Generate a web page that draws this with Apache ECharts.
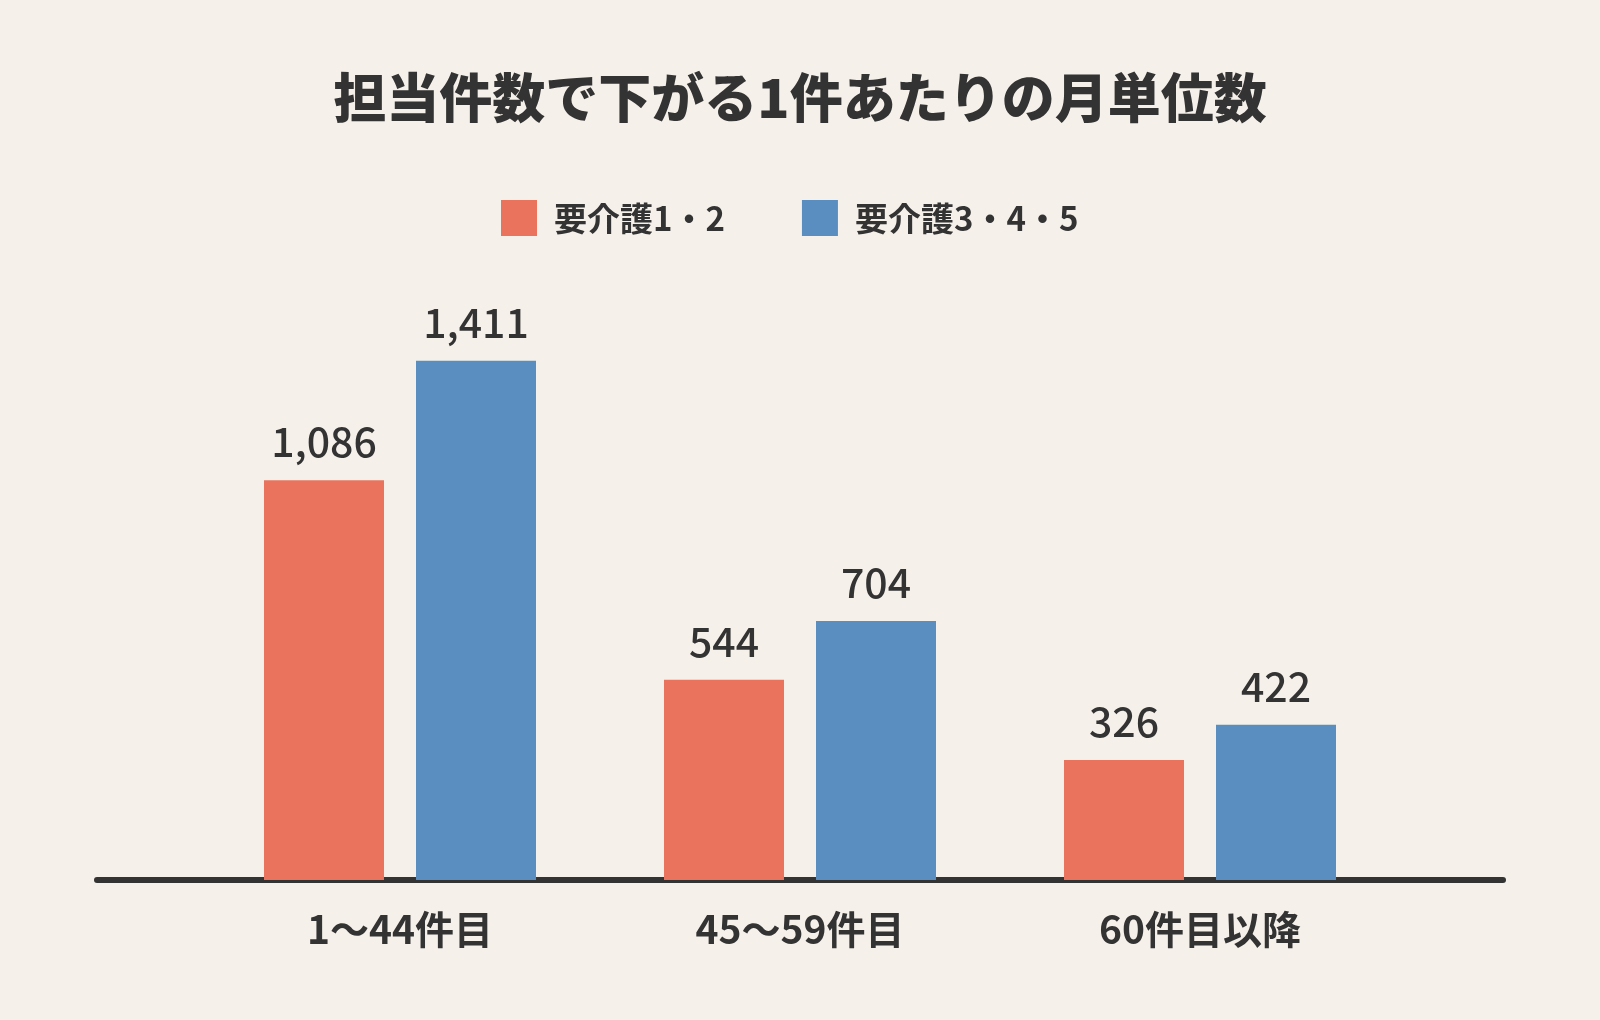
<!DOCTYPE html>
<html>
<head>
<meta charset="utf-8">
<title>担当件数で下がる1件あたりの月単位数</title>
<script src="https://cdn.jsdelivr.net/npm/echarts@6/dist/echarts.min.js"></script>
<style>
    html, body { margin: 0; padding: 0; background: #f5f0ea; }
    #chart { width: 1600px; height: 1020px; }
</style>
</head>
<body>
<div id="chart"></div>
<script>
// data
const categories = ['1〜44件目', '45〜59件目', '60件目以降'];
const seriesNames = ['要介護1・2', '要介護3・4・5'];
const care12 = [1086, 544, 326];
const care345 = [1411, 704, 422];

const font = '"Noto Sans CJK JP", "Noto Sans", sans-serif';
const textColor = '#333333';

const myChart = echarts.init(document.getElementById('chart'));

const barLabel = {
    show: true,
    position: 'top',
    distance: 18,
    color: textColor,
    fontFamily: font,
    fontSize: 41,
    fontWeight: 500,
    formatter: p => p.value.toLocaleString('en-US')
};

myChart.setOption({
    backgroundColor: '#f5f0ea',
    animation: false,
    title: {
        text: '担当件数で下がる1件あたりの月単位数',
        left: 'center',
        top: 66,
        textStyle: {
            color: textColor,
            fontFamily: font,
            fontSize: 53,
            fontWeight: 900
        }
    },
    legend: {
        data: seriesNames,
        left: 496,
        top: 195,
        icon: 'rect',
        itemWidth: 36,
        itemHeight: 36,
        itemGap: 77,
        textStyle: {
            color: textColor,
            fontFamily: font,
            fontSize: 33,
            fontWeight: 'bold',
            padding: [0, 0, 0, 12]
        }
    },
    // grid 0 only carries the long baseline, grid 1 holds the bars
    grid: [
        { left: 97, right: 97, top: 328, bottom: 140 },
        { left: 200, right: 200, top: 328, bottom: 140 }
    ],
    xAxis: [
        {
            gridIndex: 0,
            type: 'value',
            axisLine: { show: true, lineStyle: { color: textColor, width: 6 } },
            axisTick: { show: false },
            axisLabel: { show: false },
            splitLine: { show: false }
        },
        {
            gridIndex: 1,
            type: 'category',
            data: categories,
            axisLine: { show: false },
            axisTick: { show: false },
            axisLabel: {
                margin: 30,
                color: textColor,
                fontFamily: font,
                fontSize: 39,
                fontWeight: 'bold'
            }
        }
    ],
    yAxis: [
        { gridIndex: 0, type: 'value', show: false },
        { gridIndex: 1, type: 'value', min: 0, max: 1500, show: false }
    ],
    series: [
        {
            name: seriesNames[0],
            type: 'bar',
            xAxisIndex: 1,
            yAxisIndex: 1,
            data: care12,
            barWidth: 120,
            barGap: '26.67%',
            itemStyle: { color: '#e9735d' },
            label: barLabel,
            z: 3
        },
        {
            name: seriesNames[1],
            type: 'bar',
            xAxisIndex: 1,
            yAxisIndex: 1,
            data: care345,
            barWidth: 120,
            barGap: '26.67%',
            itemStyle: { color: '#5b8ec0' },
            label: barLabel,
            z: 3
        }
    ]
});
</script>
</body>
</html>
